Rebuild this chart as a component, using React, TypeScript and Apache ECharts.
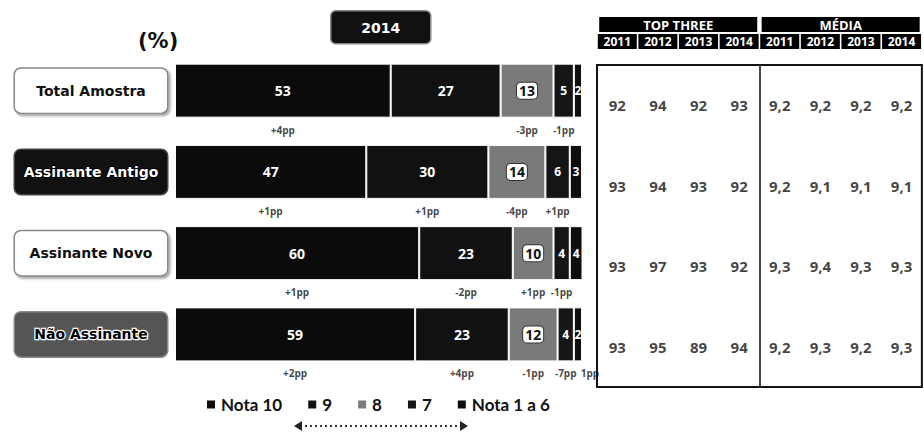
import React, { useEffect, useRef } from "react";
import * as echarts from "echarts";

// ---- data ----
const categories = ["Total Amostra", "Assinante Antigo", "Assinante Novo", "Não Assinante"];
const seriesNames = ["Nota 10", "9", "8", "7", "Nota 1 a 6"];
const nota10 = [53, 47, 60, 59];
const nota9 = [27, 30, 23, 23];
const nota8 = [13, 14, 10, 12];
const nota7 = [5, 6, 4, 4];
const nota1a6 = [2, 3, 4, 2];
const ppNota10 = ["+4pp", "+1pp", "+1pp", "+2pp"];
const ppNota9 = ["", "+1pp", "-2pp", "+4pp"];
const ppNota8 = ["-3pp", "-4pp", "+1pp", "-1pp"];
const ppNota7 = ["-1pp", "+1pp", "-1pp", "-7pp"];
const ppNota1a6 = ["", "", "", "1pp"];
const yearTitle = "2014";
const unitLabel = "(%)";
const tableGroups = ["TOP THREE", "MÉDIA"];
const years = ["2011", "2012", "2013", "2014"];
const topThree = [
  [92, 94, 92, 93],
  [93, 94, 93, 92],
  [93, 97, 93, 92],
  [93, 95, 89, 94],
];
const media = [
  [9.2, 9.2, 9.2, 9.2],
  [9.2, 9.1, 9.1, 9.1],
  [9.3, 9.4, 9.3, 9.3],
  [9.2, 9.3, 9.2, 9.3],
];

// ---- styles ----
const FONT = "DejaVu Sans";
const NUMFONT = "Open Sans";
const colors = ["#0b0b0b", "#111111", "#7a7a7a", "#151515", "#0d0d0d"];
const labelBoxStyle = ["w", "b", "w", "g"];

export default function App() {
  const ref = useRef<HTMLDivElement>(null);
  useEffect(() => {
    document.body.style.margin = "0";
    const chart = echarts.init(ref.current!, null, { renderer: "svg" });
    const values = [nota10, nota9, nota8, nota7, nota1a6];
    const pps = [ppNota10, ppNota9, ppNota8, ppNota7, ppNota1a6];

    const barSeries = values.map((arr, si) => ({
      type: "bar",
      name: seriesNames[si],
      stack: "total",
      xAxisIndex: 0,
      yAxisIndex: 0,
      barWidth: 54,
      data: arr,
      itemStyle: { color: colors[si], borderColor: "#fff", borderWidth: 1 },
      label: {
        show: true,
        position: "inside",
        fontFamily: NUMFONT,
        fontWeight: "bold",
        fontSize: si >= 3 ? 12 : 14,
        color: si === 2 ? "#111" : "#fff",
        ...(si === 2
          ? { backgroundColor: "#fff", borderRadius: 4, padding: [1, 2], borderColor: "#333", borderWidth: 1 }
          : {}),
      },
    }));

    // pp labels below each segment, positioned at segment mid-points
    const ppData: any[] = [];
    categories.forEach((_, ri) => {
      let start = 0;
      values.forEach((arr, si) => {
        const v = arr[ri];
        const txt = pps[si][ri];
        if (txt) {
          const item: any = { value: [start + v / 2, ri, txt] };
          if (si === 4) item.label = { offset: [12, 39] };
          ppData.push(item);
        }
        start += v;
      });
    });

    const tableData: any[] = [];
    categories.forEach((_, ri) => {
      years.forEach((_, ci) => {
        tableData.push([ci, ri, String(topThree[ri][ci])]);
        tableData.push([ci + 4, ri, media[ri][ci].toFixed(1).replace(".", ",")]);
      });
    });

    const yearCols = [...years, ...years];

    const richBase = {
      width: 152,
      height: 44,
      align: "center",
      fontWeight: "bold",
      fontSize: 14,
      fontFamily: FONT,
      borderRadius: 6,
      borderWidth: 1.5,
    };

    const tableLeft = 597;
    const tableTop = 65;
    const tableW = 326;
    const tableH = 322;

    chart.setOption({
      animation: false,
      grid: [
        { left: 175, top: 50, width: 407, height: 325 },
        {
          left: tableLeft,
          top: tableTop,
          width: tableW,
          height: tableH,
          show: true,
          borderColor: "#111",
          borderWidth: 2,
          backgroundColor: "#fff",
        },
      ],
      xAxis: [
        { type: "value", gridIndex: 0, min: 0, max: 100, show: false },
        {
          type: "category",
          gridIndex: 1,
          position: "top",
          data: yearCols.map((_, i) => String(i)),
          axisLine: { show: false },
          axisTick: { show: false },
          axisLabel: {
            interval: 0,
            margin: 16,
            formatter: (_v: string, i: number) => yearCols[i],
            color: "#fff",
            backgroundColor: "#000",
            width: 39,
            height: 15,
            lineHeight: 15,
            align: "center",
            fontFamily: NUMFONT,
            fontWeight: "bold",
            fontSize: 12,
          },
        },
        {
          type: "category",
          gridIndex: 1,
          position: "top",
          offset: 32,
          data: tableGroups,
          axisLine: { show: false },
          axisTick: { show: false },
          axisLabel: {
            interval: 0,
            margin: 1,
            color: "#fff",
            backgroundColor: "#000",
            width: 158,
            height: 15,
            lineHeight: 15,
            align: "center",
            fontFamily: NUMFONT,
            fontWeight: "bold",
            fontSize: 13,
          },
        },
      ],
      yAxis: [
        {
          type: "category",
          gridIndex: 0,
          inverse: true,
          data: categories,
          axisLine: { show: false },
          axisTick: { show: false },
          axisLabel: {
            margin: 8,
            formatter: (v: string, i: number) => `{${labelBoxStyle[i]}|${v}}`,
            rich: {
              w: {
                ...richBase,
                backgroundColor: "#fff",
                borderColor: "#888",
                color: "#111",
                shadowColor: "rgba(0,0,0,0.35)",
                shadowOffsetX: 2,
                shadowOffsetY: 2,
                shadowBlur: 2,
              },
              b: {
                ...richBase,
                backgroundColor: "#111",
                borderColor: "#444",
                color: "#fff",
                textBorderColor: "#000",
                textBorderWidth: 2,
              },
              g: {
                ...richBase,
                backgroundColor: "#555",
                borderColor: "#888",
                color: "#000",
                textBorderColor: "#fff",
                textBorderWidth: 2.5,
              },
            },
          },
        },
        { type: "category", gridIndex: 1, inverse: true, data: categories, show: false },
      ],
      legend: {
        left: 205,
        top: 396,
        padding: 0,
        icon: "rect",
        itemWidth: 10,
        itemHeight: 10,
        itemGap: 24,
        data: seriesNames,
        textStyle: { fontFamily: "Lato", fontWeight: "bold", fontSize: 17, color: "#111" },
      },
      series: [
        ...barSeries,
        {
          type: "scatter",
          xAxisIndex: 0,
          yAxisIndex: 0,
          symbolSize: 1,
          itemStyle: { color: "rgba(0,0,0,0)" },
          data: ppData,
          label: {
            show: true,
            position: "inside",
            offset: [0, 39],
            formatter: (p: any) => p.value[2],
            fontFamily: NUMFONT,
            fontWeight: "bold",
            fontSize: 10,
            color: "#111",
          },
          z: 5,
        },
        {
          type: "scatter",
          xAxisIndex: 1,
          yAxisIndex: 1,
          symbolSize: 1,
          itemStyle: { color: "rgba(0,0,0,0)" },
          data: tableData,
          label: {
            show: true,
            position: "inside",
            formatter: (p: any) => p.value[2],
            fontFamily: NUMFONT,
            fontWeight: "bold",
            fontSize: 15,
            color: "#111",
          },
        },
      ],
      graphic: [
        {
          type: "line",
          shape: { x1: tableLeft + tableW / 2, y1: tableTop, x2: tableLeft + tableW / 2, y2: tableTop + tableH },
          style: { stroke: "#444", lineWidth: 2 },
        },
        {
          type: "text",
          left: 138,
          top: 30,
          style: { text: unitLabel, fontFamily: FONT, fontWeight: "bold", fontSize: 21, fill: "#111" },
        },
        {
          type: "group",
          left: 330,
          top: 10,
          children: [
            {
              type: "rect",
              shape: { x: 0, y: 0, width: 100, height: 33, r: 5 },
              style: { fill: "#111", stroke: "#888", lineWidth: 1.5 },
            },
            {
              type: "text",
              x: 50,
              y: 17,
              style: {
                text: yearTitle,
                fontFamily: FONT,
                fontWeight: "bold",
                fontSize: 14,
                fill: "#fff",
                align: "center",
                verticalAlign: "middle",
              },
            },
          ],
        },
        {
          type: "line",
          shape: { x1: 300, y1: 426, x2: 462, y2: 426 },
          style: { stroke: "#333", lineWidth: 2, lineDash: [2, 3] },
        },
        {
          type: "polygon",
          shape: { points: [[294, 426], [302, 421], [302, 431]] },
          style: { fill: "#222" },
        },
        {
          type: "polygon",
          shape: { points: [[468, 426], [460, 421], [460, 431]] },
          style: { fill: "#222" },
        },
      ],
    });
    return () => chart.dispose();
  }, []);
  return <div ref={ref} style={{ width: 924, height: 432 }} />;
}
